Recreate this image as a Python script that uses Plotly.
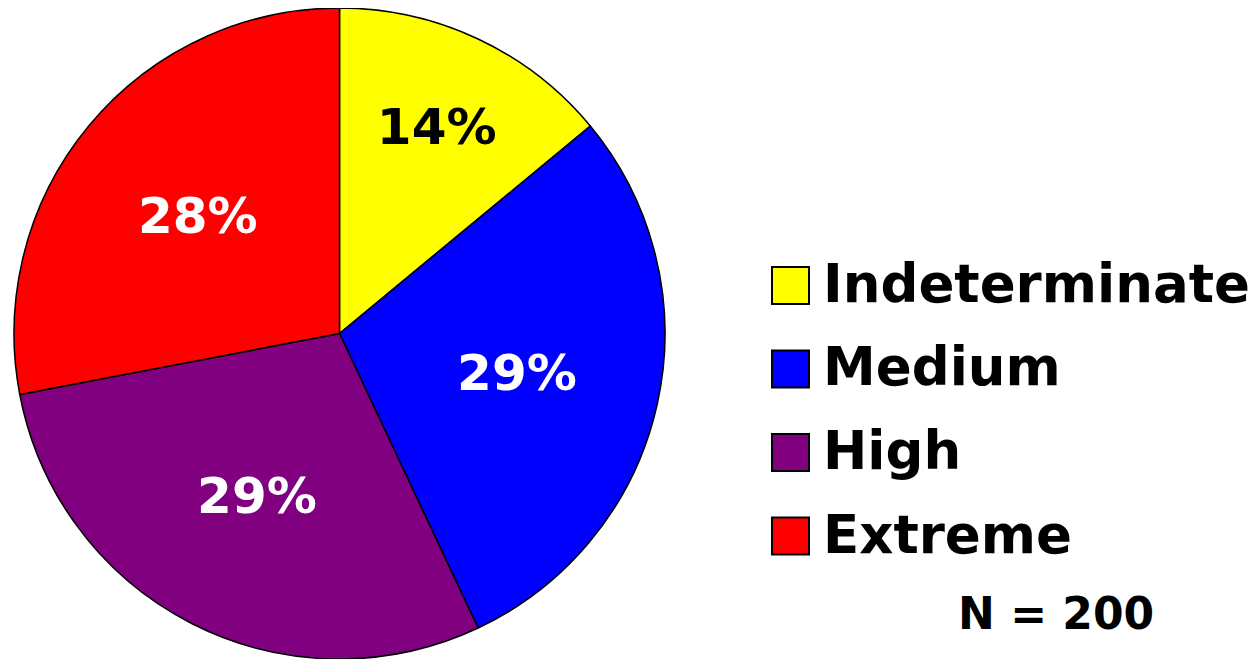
import plotly.graph_objects as go

W, H = 1259, 659
OX, OY = 8, 8  # page body margin offset

categories = ["Indeterminate", "Medium", "High", "Extreme"]
values = [14, 29, 29, 28]
colors = ["#FFFF00", "#0000FF", "#800080", "#FF0000"]
text_colors = ["black", "white", "white", "white"]
n_label = "N = 200"

FONT = "DejaVu Sans"

def px_x(x):
    return (x - OX) / W

def px_y(y):
    return 1 - (y - OY) / H

fig = go.Figure()
fig.add_trace(go.Pie(
    labels=categories,
    values=values,
    sort=False,
    direction="clockwise",
    rotation=0,
    marker=dict(colors=colors, line=dict(color="black", width=1.5)),
    textinfo="percent",
    texttemplate="%{percent:.0%}",
    textposition="inside",
    insidetextorientation="horizontal",
    textfont=dict(family=FONT, size=50, color=text_colors, weight="bold"),
    hoverinfo="skip",
    showlegend=False,
    domain=dict(x=[px_x(14), px_x(665)], y=[px_y(659), px_y(8)]),
))

shapes = []
annotations = []
row_y0 = 267
row_step = 83.5
sq = 37
for i, (cat, col) in enumerate(zip(categories, colors)):
    top = row_y0 + i * row_step
    shapes.append(dict(
        type="rect", xref="paper", yref="paper",
        x0=px_x(772), x1=px_x(772 + sq), y0=px_y(top + sq), y1=px_y(top),
        fillcolor=col, line=dict(color="black", width=2),
    ))
    annotations.append(dict(
        x=px_x(821), y=px_y(top + sq / 2 - 2), xref="paper", yref="paper",
        text=cat, showarrow=False, xanchor="left", yanchor="middle",
        font=dict(family=FONT, size=53, color="black", weight="bold"),
    ))

annotations.append(dict(
    x=px_x(1056), y=px_y(613), xref="paper", yref="paper",
    text=n_label, showarrow=False, xanchor="center", yanchor="middle",
    font=dict(family=FONT, size=44, color="black", weight="bold"),
))

fig.update_layout(
    width=W, height=H,
    margin=dict(l=0, r=0, t=0, b=0),
    paper_bgcolor="white", plot_bgcolor="white",
    shapes=shapes, annotations=annotations,
    showlegend=False,
)

fig.write_html("out.html")
